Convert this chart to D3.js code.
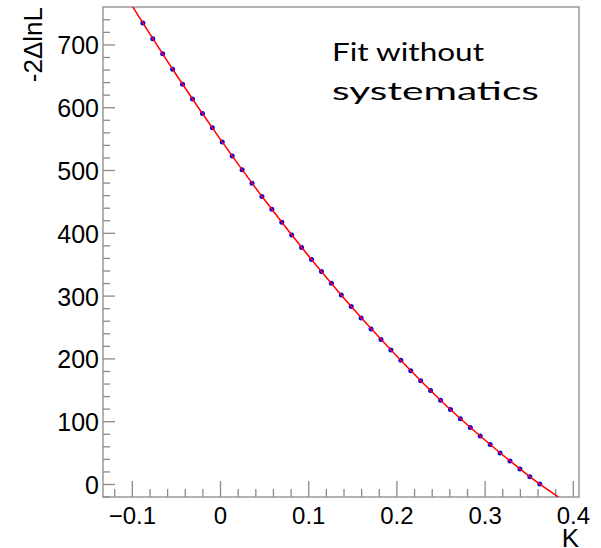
<!DOCTYPE html>
<html>
<head>
<meta charset="utf-8">
<script src="https://cdn.jsdelivr.net/npm/d3@7"></script>
<style>
  html, body { margin: 0; padding: 0; background: #fff; }
  svg { display: block; }
</style>
</head>
<body>
<svg id="chart" width="601" height="548"></svg>
<script>
// ---- data ----
const kValues = [-0.0875, -0.07625, -0.065, -0.05375, -0.0425, -0.03125, -0.02, -0.00875,
  0.0025, 0.01375, 0.025, 0.03625, 0.0475, 0.05875, 0.07, 0.08125, 0.0925, 0.10375,
  0.115, 0.12625, 0.1375, 0.14875, 0.16, 0.17125, 0.1825, 0.19375, 0.205, 0.21625,
  0.2275, 0.23875, 0.25, 0.26125, 0.2725, 0.28375, 0.295, 0.30625, 0.3175, 0.32875,
  0.34, 0.35125, 0.3625];
const nllValues = [734, 709, 685, 660.5, 636.5, 613, 590, 567.5, 544.5, 522.5, 500.5,
  479, 458, 437.5, 417, 396.5, 376.5, 357.5, 338.5, 319.5, 301, 282.5, 264.5, 247,
  230, 213.5, 197, 180.5, 164.5, 149, 133.5, 118.5, 104, 90, 76.5, 63, 49.5, 36.5,
  24, 11.5, 0];
const fitK = [-0.1, -0.05, 0, 0.05, 0.1, 0.15, 0.2, 0.25, 0.3, 0.35, 0.384];
const fitValues = [762, 652.5, 549.6, 453.4, 363.8, 280.5, 204.3, 133.5, 70.5, 12.9, -21];
const xTicks = [-0.1, 0, 0.1, 0.2, 0.3, 0.4];
const xTickLabels = ["\u22120.1", "0", "0.1", "0.2", "0.3", "0.4"];
const xMinorTicks = [-0.12, -0.08, -0.06, -0.04, -0.02, 0.02, 0.04, 0.06, 0.08, 0.12, 0.14, 0.16, 0.18,
  0.22, 0.24, 0.26, 0.28, 0.32, 0.34, 0.36, 0.38];
const yTicks = [0, 100, 200, 300, 400, 500, 600, 700];
const yMinorTicks = [-20, 20, 40, 60, 80, 120, 140, 160, 180, 220, 240, 260, 280, 320, 340, 360, 380,
  420, 440, 460, 480, 520, 540, 560, 580, 620, 640, 660, 680, 720, 740];
const xTitle = "K";
const yTitle = "-2\u0394lnL";
const noteLines = ["Fit without", "systematics"];

// ---- layout ----
const pLeft = 103, pRight = 579, pTop = 7, pBottom = 497;
const svg = d3.select("#chart");
const x = d3.scaleLinear().domain([-0.1327, 0.4070]).range([pLeft, pRight]);
const y = d3.scaleLinear().domain([-20.7, 759.6]).range([pBottom, pTop]);
const axisColor = "#8a8a8a";
const font = "'Liberation Sans', Arial, Helvetica, sans-serif";

svg.append("defs").append("clipPath").attr("id", "plotclip")
  .append("rect").attr("x", pLeft).attr("y", pTop).attr("width", pRight - pLeft).attr("height", pBottom - pTop);

// minor ticks
const xMinor = svg.append("g").attr("transform", `translate(0,${pBottom})`)
  .call(d3.axisBottom(x).tickValues(xMinorTicks).tickSize(-8).tickFormat(""));
const xMajor = svg.append("g").attr("transform", `translate(0,${pBottom})`)
  .call(d3.axisBottom(x).tickValues(xTicks).tickSize(-16).tickPadding(10)
    .tickFormat((d, i) => xTickLabels[i]));
const yMinor = svg.append("g").attr("transform", `translate(${pLeft},0)`)
  .call(d3.axisLeft(y).tickValues(yMinorTicks).tickSize(-7).tickFormat(""));
const yMajor = svg.append("g").attr("transform", `translate(${pLeft},0)`)
  .call(d3.axisLeft(y).tickValues(yTicks).tickSize(-12).tickPadding(4));

[xMinor, xMajor, yMinor, yMajor].forEach(g => {
  g.select(".domain").remove();
  g.selectAll(".tick line").attr("stroke", axisColor).attr("stroke-width", 1.3);
  g.selectAll("text").attr("fill", "#000").style("font-family", font);
});
xMajor.selectAll("text").style("font-size", "24px");
yMajor.selectAll("text").style("font-size", "25px").attr("dy", "0.38em");

// frame
svg.append("rect").attr("x", pLeft).attr("y", pTop)
  .attr("width", pRight - pLeft).attr("height", pBottom - pTop)
  .attr("fill", "none").attr("stroke", axisColor).attr("stroke-width", 1.3);

// data points
const plot = svg.append("g").attr("clip-path", "url(#plotclip)");
plot.selectAll("circle").data(kValues).join("circle")
  .attr("cx", d => x(d))
  .attr("cy", (d, i) => y(nllValues[i]))
  .attr("r", 2.5)
  .attr("fill", "#0000ff");

// fit curve
const line = d3.line().x(d => x(d[0])).y(d => y(d[1])).curve(d3.curveNatural);
plot.append("path")
  .datum(fitK.map((k, i) => [k, fitValues[i]]))
  .attr("d", line)
  .attr("fill", "none").attr("stroke", "#ff0000").attr("stroke-width", 1.5);

// axis titles
svg.append("text").attr("x", pRight).attr("y", 547).attr("text-anchor", "end")
  .style("font-family", font).style("font-size", "26px").attr("fill", "#000").text(xTitle);
svg.append("text").attr("transform", `translate(42,${pTop}) rotate(-90)`).attr("text-anchor", "end")
  .style("font-family", font).style("font-size", "26px").attr("fill", "#000").text(yTitle);

// annotation
const note = svg.append("text").style("font-family", "Lato, 'Open Sans', sans-serif")
  .style("font-size", "25px").attr("fill", "#000");
note.selectAll("tspan").data(noteLines).join("tspan")
  .attr("x", 332).attr("y", (d, i) => 61 + i * 39)
  .attr("textLength", (d, i) => i === 0 ? 152 : 207)
  .attr("lengthAdjust", "spacingAndGlyphs")
  .text(d => d);
</script>
</body>
</html>
